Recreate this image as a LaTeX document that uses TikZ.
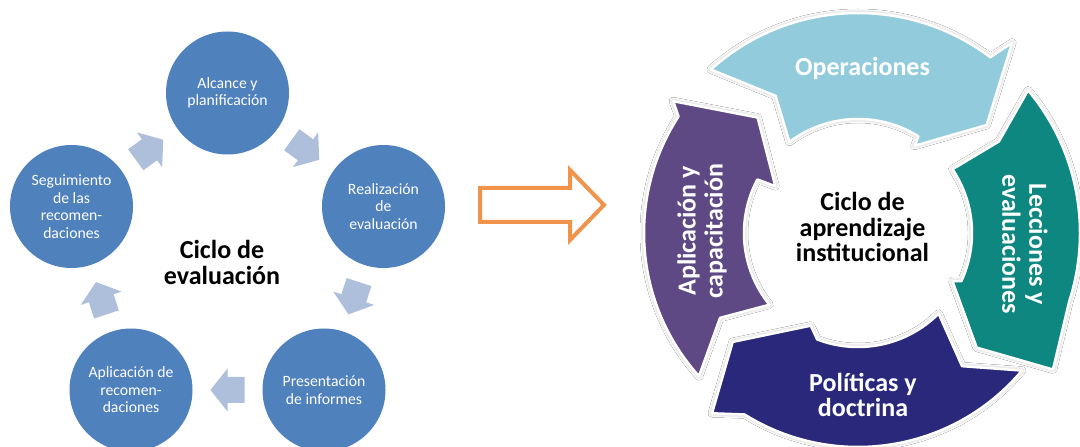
\documentclass[tikz,border=0pt]{standalone}
\usepackage{fontspec}
\setmainfont{Carlito}
\usetikzlibrary{shadows.blur}
\definecolor{cblue}{RGB}{79,129,189}
\definecolor{carrow}{RGB}{174,191,220}
\definecolor{corange}{RGB}{240,148,76}
\definecolor{clb}{RGB}{146,204,220}
\definecolor{cteal}{RGB}{14,135,128}
\definecolor{cnavy}{RGB}{42,40,122}
\definecolor{cpurple}{RGB}{94,73,133}
\begin{document}
\begin{tikzpicture}[x=1pt,y=1pt,
  circ/.style={circle, fill=cblue, minimum size=123pt, inner sep=0pt, text=white, align=center, font=\fontsize{15.7}{17.6}\selectfont},
  smallarr/.style={fill=carrow},
  bigtitle/.style={align=center, inner sep=0pt, font=\fontsize{26}{25.5}\selectfont\bfseries},
  ringtext/.style={bigtitle, text=white},
  ringarr/.style={draw=white, line width=2.5pt, line join=round, blur shadow={shadow xshift=0pt, shadow yshift=0pt, shadow blur radius=4pt, shadow opacity=35}},
  outarr/.style={draw=corange, line width=4pt, line join=miter}
]
\fill[white] (0,0) rectangle (1080,447);
\useasboundingbox (0,0) rectangle (1080,447);

% ---------- left: evaluation cycle ----------
\node[circ] (A)  at (227.5,354) {Alcance y\\planificación};
\node[circ] (R)  at (383.5,240.5) {Realización\\de\\evaluación};
\node[circ] (P)  at (324,57) {Presentación\\de informes};
\node[circ] (Ap) at (131,57) {Aplicación de\\recomen-\\daciones};
\node[circ] (S)  at (71.5,240.5) {Seguimiento\\de las\\recomen-\\daciones};
\node[bigtitle] (ce) at (222,184.5) {Ciclo de\\evaluación};

\path (S) -- (A) coordinate[midway] (m1);
\path (A) -- (R) coordinate[midway] (m2);
\path (R) -- (P) coordinate[midway] (m3);
\path (P) -- (Ap) coordinate[midway] (m4);
\path (Ap) -- (S) coordinate[midway] (m5);
\fill[smallarr, shift={(m1)}, rotate=36] (-17,-13) -- (0,-13) -- (0,-21.5) -- (17,0) -- (0,21.5) -- (0,13) -- (-17,13) -- cycle;
\fill[smallarr, shift={(m2)}, rotate=-36] (-17,-13) -- (0,-13) -- (0,-21.5) -- (17,0) -- (0,21.5) -- (0,13) -- (-17,13) -- cycle;
\fill[smallarr, shift={(m3)}, rotate=-108] (-17,-13) -- (0,-13) -- (0,-21.5) -- (17,0) -- (0,21.5) -- (0,13) -- (-17,13) -- cycle;
\fill[smallarr, shift={(m4)}, rotate=180] (-17,-13) -- (0,-13) -- (0,-21.5) -- (17,0) -- (0,21.5) -- (0,13) -- (-17,13) -- cycle;
\fill[smallarr, shift={(m5)}, rotate=108] (-17,-13) -- (0,-13) -- (0,-21.5) -- (17,0) -- (0,21.5) -- (0,13) -- (-17,13) -- cycle;

% ---------- middle: orange outline arrow ----------
\draw[outarr] (480,259) -- (570,259) -- (570,277) -- (604,242) -- (570,207) -- (570,225) -- (480,225) -- cycle;

% ---------- right: institutional learning cycle ----------
\begin{scope}[shift={(858,214)}]
\path[ringarr, fill=clb] (132:220) arc[start angle=132, end angle=53, radius=220] -- (51:245) -- (40:168) -- (57:104) -- (58:114) arc[start angle=58, end angle=127, radius=114] -- (121:160) -- cycle;
\path[ringarr, fill=cteal] (40:222) arc[start angle=40, end angle=-18, radius=222] -- (-35:238) -- (-44:165) -- (-27:106) -- (-25:114) arc[start angle=-25, end angle=34, radius=114] -- (33:168) -- cycle;
\path[ringarr, fill=cnavy] (320:214) arc[start angle=320, end angle=238, radius=214] -- (231:232) -- (221:166) -- (243:104) -- (249:114) arc[start angle=249, end angle=315, radius=114] -- (308:169) -- cycle;
\path[ringarr, fill=cpurple] (222:214) arc[start angle=222, end angle=147, radius=214] -- (144.5:227) -- (131:153) -- (150.5:95) -- (152:114) arc[start angle=152, end angle=219, radius=114] -- (211.6:162) -- cycle;
\end{scope}

\node[ringtext] (op) at (862.5,379) {Operaciones};
\node[ringtext, rotate=-90, font=\fontsize{26}{27}\selectfont\bfseries] (le) at (1025,203) {Lecciones y\\evaluaciones};
\node[ringtext] (po) at (863,52) {Políticas y\\doctrina};
\node[ringtext, rotate=90, font=\fontsize{26}{27}\selectfont\bfseries] (ac) at (702,216) {Aplicación y\\capacitación};
\node[bigtitle] (ci) at (862.5,220) {Ciclo de\\aprendizaje\\institucional};
\end{tikzpicture}
\end{document}
